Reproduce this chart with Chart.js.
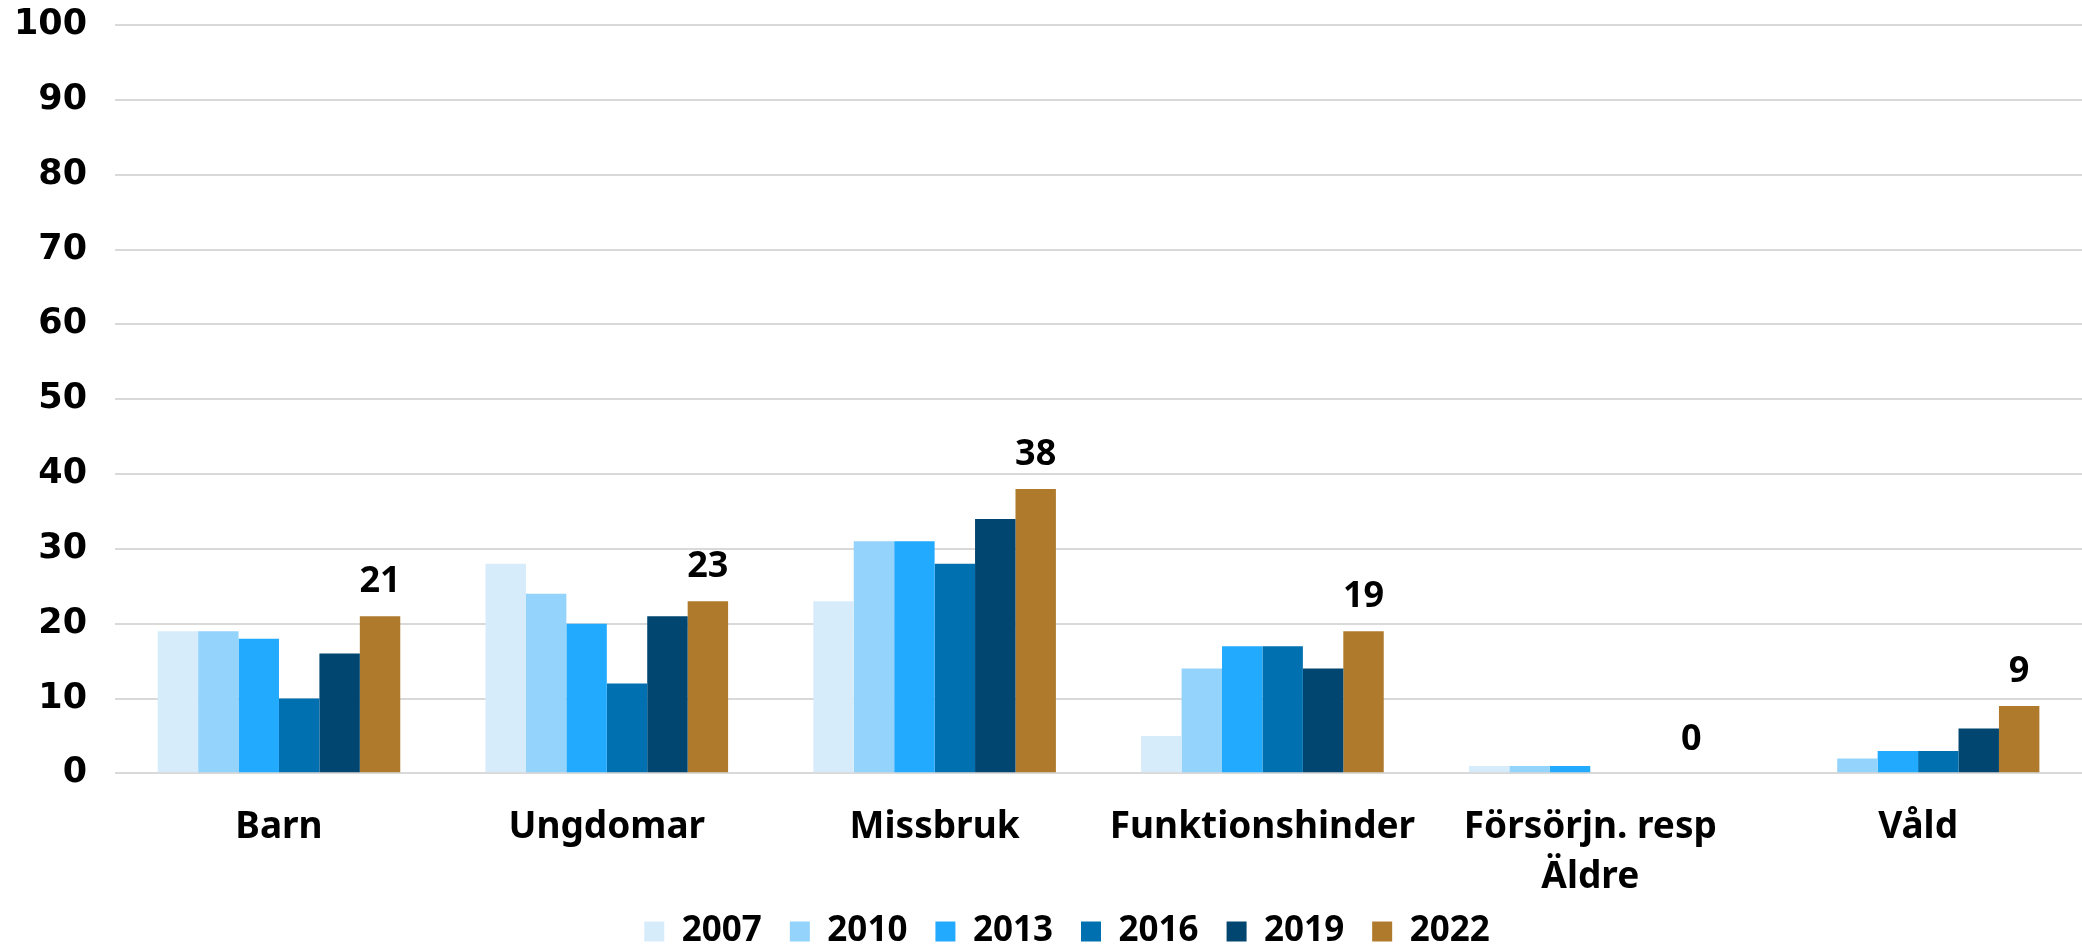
<!DOCTYPE html>
<html>
<head>
<meta charset="utf-8">
<script src="https://cdn.jsdelivr.net/npm/chart.js@4"></script>
<style>
  html, body { margin: 0; padding: 0; background: #fff; }
  #wrap { width: 2082px; height: 946px; }
</style>
</head>
<body>
<div id="wrap"><canvas id="chart"></canvas></div>
<script>
// Kategorier och värden per år
const categories = ['Barn', 'Ungdomar', 'Missbruk', 'Funktionshinder', ['Försörjn. resp', 'Äldre'], 'Våld'];
const years = ['2007', '2010', '2013', '2016', '2019', '2022'];
const v2007 = [19, 28, 23, 5, 1, 0];
const v2010 = [19, 24, 31, 14, 1, 2];
const v2013 = [18, 20, 31, 17, 1, 3];
const v2016 = [10, 12, 28, 17, 0, 3];
const v2019 = [16, 21, 34, 14, 0, 6];
const v2022 = [21, 23, 38, 19, 0, 9];
const yTicks = [0, 10, 20, 30, 40, 50, 60, 70, 80, 90, 100];

const colors = ['#d6ecfb', '#93d3fc', '#22aaff', '#0070b0', '#004671', '#b07a2c'];
const series = [v2007, v2010, v2013, v2016, v2019, v2022];

// Etiketter bara på sista serien (2022)
const valueLabels = {
    id: 'valueLabels',
    afterLayout(chart) {
        // legenden sitter lite till höger om mitten och tätt under kategorierna
        chart.legend.left += 66;
        chart.legend.top -= 26;
        chart.legend.bottom -= 26;
    },
    afterDatasetsDraw(chart) {
        const ctx = chart.ctx;
        const i = chart.data.datasets.length - 1;
        const meta = chart.getDatasetMeta(i);
        ctx.save();
        ctx.font = 'bold 36px "Noto Sans"';
        ctx.fillStyle = '#000';
        ctx.textAlign = 'center';
        ctx.textBaseline = 'middle';
        meta.data.forEach((bar, j) => {
            ctx.fillText(chart.data.datasets[i].data[j], bar.x, bar.y - 34);
        });
        ctx.restore();
    }
};

new Chart(document.getElementById('chart'), {
    type: 'bar',
    data: {
        labels: categories,
        datasets: years.map((y, i) => ({
            label: y,
            data: series[i],
            backgroundColor: colors[i],
            borderWidth: 0,
            categoryPercentage: 0.74,
            barPercentage: 1
        }))
    },
    options: {
        responsive: true,
        maintainAspectRatio: false,
        animation: false,
        layout: { padding: { top: 0, left: -14, right: 0, bottom: -39 } },
        plugins: {
            tooltip: { enabled: false },
            legend: {
                position: 'bottom',
                labels: {
                    color: '#000',
                    font: { family: '"Noto Sans"', weight: 'bold', size: 35 },
                    boxWidth: 20,
                    boxHeight: 20,
                    padding: 28
                }
            }
        },
        scales: {
            x: {
                grid: { display: false, drawTicks: false },
                border: { display: false },
                ticks: {
                    color: '#000',
                    font: { family: '"Noto Sans"', weight: 'bold', size: 37, lineHeight: 1.36 },
                    maxRotation: 0,
                    padding: 29
                },
                afterFit: axis => { axis.height -= 20; }
            },
            y: {
                min: 0,
                max: 100,
                afterBuildTicks: axis => { axis.ticks = yTicks.map(v => ({ value: v })); },
                afterFit: axis => { axis.paddingTop = 25; },
                grid: { color: '#d9d9d9', lineWidth: 2, drawTicks: false },
                border: { display: false },
                ticks: {
                    color: '#000',
                    font: { family: '"DejaVu Sans"', weight: 'bold', size: 35 },
                    padding: 28
                }
            }
        }
    },
    plugins: [valueLabels]
});
</script>
</body>
</html>
